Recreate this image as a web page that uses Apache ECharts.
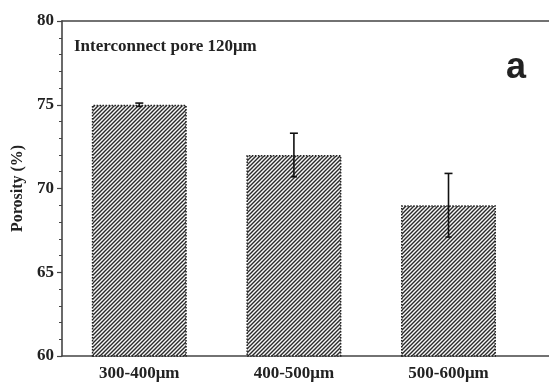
<!DOCTYPE html>
<html><head><meta charset="utf-8">
<script src="https://cdn.jsdelivr.net/npm/echarts@6/dist/echarts.min.js"></script>
<style>html,body{margin:0;padding:0;background:#fff}#c{width:549px;height:383px}</style>
</head><body><div id="c"></div>
<script>
// Data
const categories = ['300-400μm', '400-500μm', '500-600μm'];
const porosity = [75, 72, 69];
const errors = [0.1, 1.3, 1.9];
const yTicks = [60, 65, 70, 75, 80];

// hatch pattern
const tile = document.createElement('canvas');
tile.width = 4; tile.height = 4;
const g = tile.getContext('2d');
g.fillStyle = '#f8f8f8'; g.fillRect(0, 0, 4, 4);
g.strokeStyle = '#2a2a2a'; g.lineWidth = 1.4;
g.beginPath();
g.moveTo(-1, 5); g.lineTo(5, -1);
g.moveTo(-1, 1); g.lineTo(1, -1);
g.moveTo(3, 5); g.lineTo(5, 3);
g.stroke();

const positions = categories.map((c, i) => i + 1);
const barData = positions.map((p, i) => [p, porosity[i]]);
const errData = positions.map((p, i) => [p, porosity[i] - errors[i], porosity[i] + errors[i]]);

const serif = '"Liberation Serif", "Times New Roman", serif';
const chart = echarts.init(document.getElementById('c'), null, {renderer: 'canvas'});
chart.setOption({
  animation: false,
  grid: {left: 62, top: 21, right: 0, bottom: 27, containLabel: false},
  xAxis: [{
    type: 'value', min: 0.5, max: 3.65,
    axisLine: {show: true, lineStyle: {color: '#444', width: 1.6}},
    axisTick: {show: false},
    splitLine: {show: false},
    axisLabel: {
      customValues: positions,
      formatter: v => categories[Math.round(v) - 1] || '',
      fontFamily: serif, fontWeight: 'bold', fontSize: 17, color: '#222', margin: 9
    }
  }, {
    type: 'value', min: 0.5, max: 3.65, position: 'top',
    axisLine: {show: true, onZero: false, lineStyle: {color: '#444', width: 1.6}},
    axisTick: {show: false}, axisLabel: {show: false}, splitLine: {show: false}
  }],
  yAxis: {
    type: 'value', min: yTicks[0], max: yTicks[yTicks.length - 1], interval: 5,
    name: 'Porosity (%)', nameLocation: 'middle', nameGap: 33, nameRotate: 90,
    nameTextStyle: {fontFamily: serif, fontWeight: 'bold', fontSize: 16, color: '#222'},
    axisLine: {show: true, lineStyle: {color: '#444', width: 1.6}},
    axisTick: {show: true, inside: false, length: 5, lineStyle: {color: '#444', width: 1.2}},
    minorTick: {show: true, splitNumber: 5, length: 3, lineStyle: {color: '#444', width: 1}},
    splitLine: {show: false},
    axisLabel: {fontFamily: serif, fontWeight: 'bold', fontSize: 17, color: '#222', margin: 8}
  },
  series: [{
    type: 'bar', data: barData, barWidth: 95,
    itemStyle: {
      color: {image: tile, repeat: 'repeat'},
      borderColor: '#222', borderWidth: 1.5, borderType: 'dotted'
    }
  }, {
    type: 'custom', data: errData, z: 5,
    renderItem: function (params, api) {
      const x = api.value(0);
      const lo = api.coord([x, api.value(1)]);
      const hi = api.coord([x, api.value(2)]);
      const w = 4;
      const st = {stroke: '#111', lineWidth: 1.6};
      return {type: 'group', children: [
        {type: 'line', shape: {x1: lo[0], y1: lo[1], x2: hi[0], y2: hi[1]}, style: st},
        {type: 'line', shape: {x1: hi[0] - w, y1: hi[1], x2: hi[0] + w, y2: hi[1]}, style: st},
        {type: 'line', shape: {x1: lo[0] - 3, y1: lo[1], x2: lo[0] + 3, y2: lo[1]}, style: st}
      ]};
    }
  }],
  graphic: [
    {type: 'text', left: 74, top: 38, style: {text: 'Interconnect pore 120μm', font: 'bold 17px ' + serif, fill: '#222'}},
    {type: 'text', left: 506, top: 50, style: {text: 'a', font: 'bold 36px "Liberation Sans", Arial, sans-serif', fill: '#222'}}
  ]
});
</script></body></html>
